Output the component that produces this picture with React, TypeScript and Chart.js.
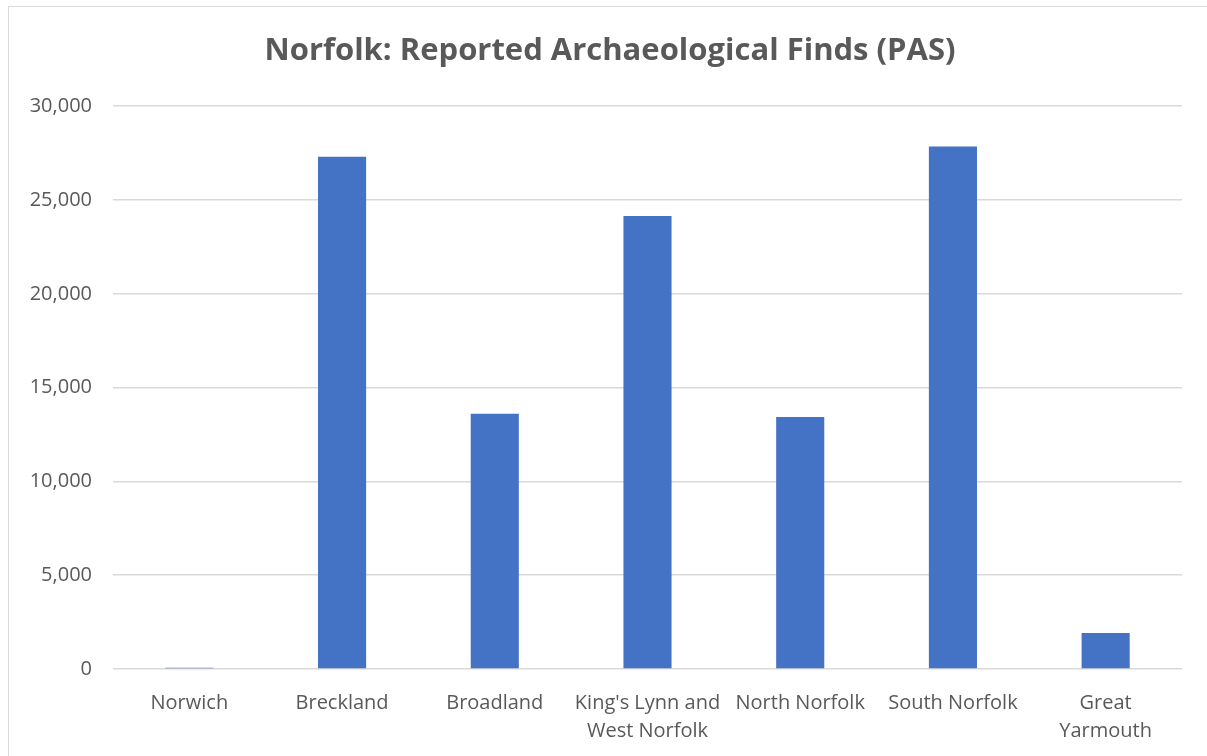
import React, { useEffect, useRef } from "react";
import { Chart, registerables } from "chart.js";

Chart.register(...registerables);

const categories: (string | string[])[] = [
  "Norwich",
  "Breckland",
  "Broadland",
  ["King's Lynn and", "West Norfolk"],
  "North Norfolk",
  "South Norfolk",
  ["Great", "Yarmouth"],
];
const finds: number[] = [70, 27300, 13600, 24150, 13430, 27850, 1920];
const titleText = "Norfolk: Reported Archaeological Finds (PAS)";
const yMax = 30000;
const yStep = 5000;

const titleFont = { family: "Open Sans", size: 31, weight: "bold" as const };

// Draws the (space-reserved) title centred on the outer chart frame rather than the padded layout box
const centeredTitle = {
  id: "centeredTitle",
  afterDraw(chart: any) {
    const tb = chart.titleBlock;
    if (!tb) return;
    const ctx = chart.ctx;
    ctx.save();
    ctx.font = `bold ${titleFont.size}px "${titleFont.family}"`;
    ctx.fillStyle = "#595959";
    ctx.textAlign = "center";
    ctx.textBaseline = "middle";
    ctx.fillText(titleText, chart.width / 2 + 6.5, tb.top + 33 + (titleFont.size * 1.2) / 2);
    ctx.restore();
  },
};

export default function App() {
  const ref = useRef<HTMLCanvasElement | null>(null);
  useEffect(() => {
    if (!ref.current) return;
    const chart = new Chart(ref.current, {
      type: "bar",
      data: {
        labels: categories,
        datasets: [
          {
            data: finds,
            backgroundColor: "#4472C4",
            borderWidth: 0,
            categoryPercentage: 1,
            barPercentage: 0.315,
          },
        ],
      },
      plugins: [centeredTitle],
      options: {
        animation: false,
        responsive: false,
        maintainAspectRatio: false,
        layout: { padding: { left: 0, right: 25, top: 0, bottom: 0 } },
        plugins: {
          legend: { display: false },
          tooltip: { enabled: false },
          title: {
            display: true,
            text: titleText,
            color: "rgba(0,0,0,0)",
            font: titleFont,
            padding: { top: 33, bottom: 36 },
          },
        },
        scales: {
          x: {
            grid: { display: false },
            border: { display: false },
            ticks: {
              color: "#595959",
              font: { family: "Open Sans", size: 20, lineHeight: 1.4 },
              padding: 12,
              maxRotation: 0,
              autoSkip: false,
            },
            afterFit: (s: any) => {
              s.height = 87;
            },
          },
          y: {
            min: 0,
            max: yMax,
            grid: { color: "#d9d9d9", lineWidth: 1.5, drawTicks: false },
            border: { display: false },
            ticks: {
              stepSize: yStep,
              color: "#595959",
              font: { family: "Open Sans", size: 20 },
              padding: 21,
              callback: (v: any) => Number(v).toLocaleString("en-US"),
            },
            afterFit: (s: any) => {
              s.width = 113;
            },
          },
        },
      },
    });
    return () => chart.destroy();
  }, []);
  return (
    <div style={{ position: "absolute", left: 0, top: 0, width: 1207, height: 756, background: "#fff", overflow: "hidden" }}>
      <div
        style={{
          position: "absolute",
          left: 8,
          top: 6,
          width: 1220,
          height: 770,
          border: "1.5px solid #d9d9d9",
        }}
      />
      <canvas ref={ref} width={1207} height={756} style={{ position: "absolute", left: 0, top: 0 }} />
    </div>
  );
}
